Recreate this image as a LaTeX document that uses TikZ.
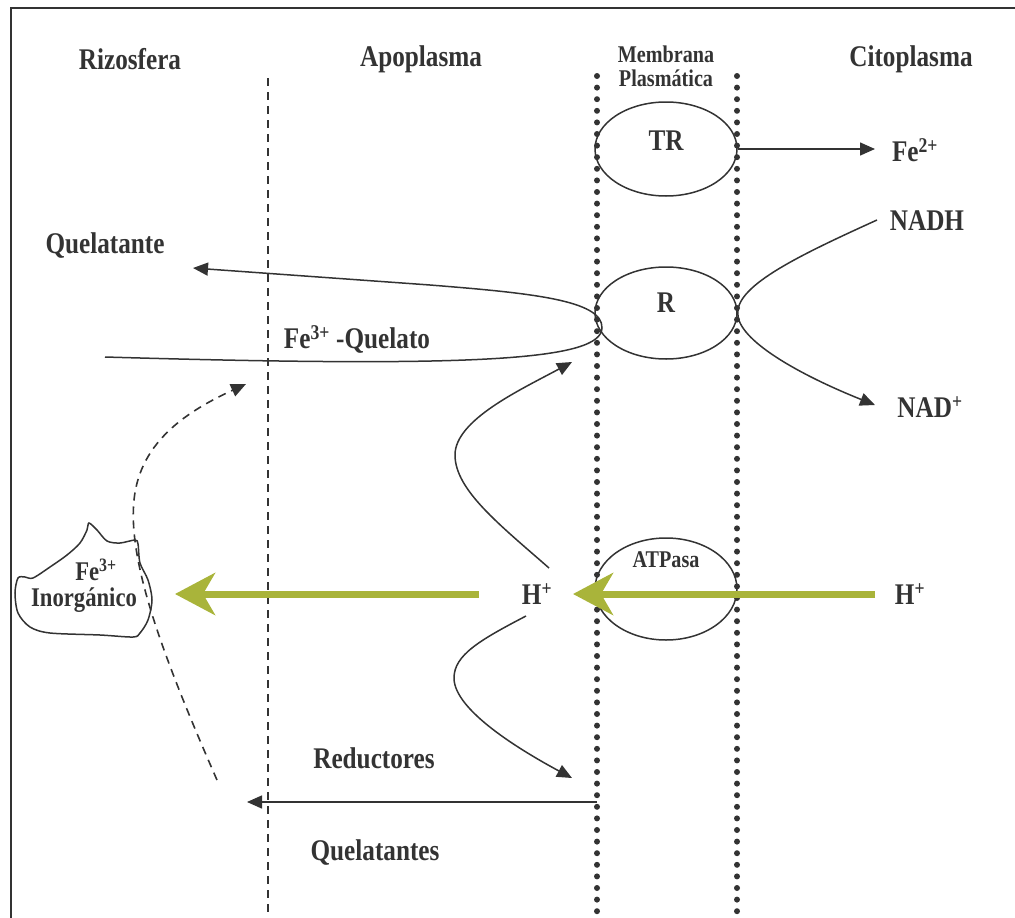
\documentclass[tikz,border=0pt]{standalone}
\usepackage{fontspec}
\setmainfont{Liberation Serif}[FakeStretch=0.84]
\usetikzlibrary{arrows.meta,shapes.geometric}
\definecolor{ink}{HTML}{333333}
\definecolor{olive}{HTML}{A9B43A}
\tikzset{
  lbl/.style={font=\fontsize{30}{34}\selectfont\bfseries, text=ink, inner sep=0pt},
  slbl/.style={font=\fontsize{24}{28}\selectfont\bfseries, text=ink, inner sep=0pt, align=center},
  ilbl/.style={font=\fontsize{27}{30}\selectfont\bfseries, text=ink, inner sep=0pt},
  memb/.style={draw=ink, line width=1.5pt, ellipse, minimum width=142pt, inner sep=0pt},
  thin/.style={draw=ink, line width=1.5pt},
  tip/.style={-{Triangle[length=15pt,width=13pt]}},
  dotline/.style={draw=ink, line width=6pt, line cap=round, dash pattern=on 0pt off 11.6pt},
  dashline/.style={draw=ink, line width=1.6pt, dash pattern=on 8pt off 6pt},
  greenarrow/.style={draw=olive, line width=7pt, -{Stealth[length=40pt,width=42pt,inset=12pt]}},
}
\begin{document}
\begin{tikzpicture}[x=1pt,y=-1pt]
\useasboundingbox (0,0) rectangle (1015,918);
% frame
\draw[ink, line width=2pt] (11,918) -- (11,8) -- (1015,8);
% region lines
\draw[dashline] (268,78) -- (268,918);
\draw[dotline] (597,76) -- (597,918);
\draw[dotline] (737,76) -- (737,918);
% headers
\node[lbl] (hriz) at (130,59) {Rizosfera};
\node[lbl] (hapo) at (421,59) {Apoplasma};
\node[slbl] (hmem) at (666,66) {Membrana\\[-4pt]Plasmática};
\node[lbl] (hcit) at (911,59) {Citoplasma};
% membrane proteins
\node[memb, minimum height=94pt] (tr) at (666,149) {};
\node[lbl] (trl) at (666,141) {TR};
\node[memb, minimum height=92pt] (r) at (666,313) {};
\node[lbl] (rl) at (666,303) {R};
\node[memb, minimum height=102pt] (atp) at (666,589) {};
\node[slbl] (atpl) at (666,560) {ATPasa};
% labels
\node[lbl] (fe2) at (915,150) {Fe\textsuperscript{2+}};
\node[lbl] (nadh) at (927,221) {NADH};
\node[lbl] (nad) at (930,407) {NAD\textsuperscript{+}};
\node[lbl] (quel) at (105,246) {Quelatante};
\node[lbl] (fequel) at (357,339) {Fe\textsuperscript{3+} -Quelato};
\node[lbl] (hin) at (537,594) {H\textsuperscript{+}};
\node[lbl] (hout) at (910,594) {H\textsuperscript{+}};
\node[lbl] (red) at (374,758) {Reductores};
\node[lbl] (quels) at (375,853) {Quelatantes};
% blob
\draw[ink, line width=1.5pt] plot[smooth cycle, tension=0.5] coordinates {
  (89,523) (97,530) (107,541) (120,543) (135,540) (138,544) (140,563)
  (148,580) (152,600) (148,620) (140,633) (133,637) (100,635) (50,633)
  (30,627) (18,613) (15,593) (18,578) (25,577) (33,578) (50,567)
  (67,555) (80,543) (87,530)};
\node[ilbl] (fe3) at (96,570) {Fe\textsuperscript{3+}};
\node[ilbl] (inorg) at (84,600) {Inorgánico};
% coordinates for free ends
\coordinate (fe2end) at (875,149);
\coordinate (nadhstart) at (877,220);
\coordinate (nadend) at (875,405);
\coordinate (quelend) at (193,268);
\coordinate (chelstart) at (105,357);
\coordinate (rtop) at (572,362);
\coordinate (rbot) at (572,778);
\coordinate (hups) at (549,568);
\coordinate (hdns) at (526,616);
\coordinate (dashtop) at (246,384);
\coordinate (dashbot) at (217,780);
\coordinate (botstart) at (597,802);
\coordinate (botend) at (247,802);
\coordinate (g1s) at (875,594);
\coordinate (g1e) at (573,594);
\coordinate (g2s) at (479,594);
\coordinate (g2e) at (175,594);
% connectors
\draw[thin, tip] (tr.east) -- (fe2end);
\draw[thin, tip] (nadhstart) .. controls (800,255) and (737,285) .. (r.east)
  .. controls (737,340) and (800,375) .. (nadend);
\draw[thin, tip] (chelstart) .. controls (480,368) and (601,360) .. (602,328)
  .. controls (603,300) and (530,293) .. (430,285) -- (quelend);
\draw[thin, tip] (hups) .. controls (500,525) and (455,490) .. (455,455)
  .. controls (455,420) and (520,390) .. (rtop);
\draw[thin, tip] (hdns) .. controls (480,640) and (454,655) .. (454,678)
  .. controls (454,710) and (520,750) .. (rbot);
\draw[dashline, tip] (dashbot) .. controls (160,650) and (128,560) .. (134,500)
  .. controls (140,440) and (190,410) .. (dashtop);
\draw[thin, tip] (botstart) -- (botend);
\draw[greenarrow] (g1s) -- (g1e);
\draw[greenarrow] (g2s) -- (g2e);
\end{tikzpicture}
\end{document}
